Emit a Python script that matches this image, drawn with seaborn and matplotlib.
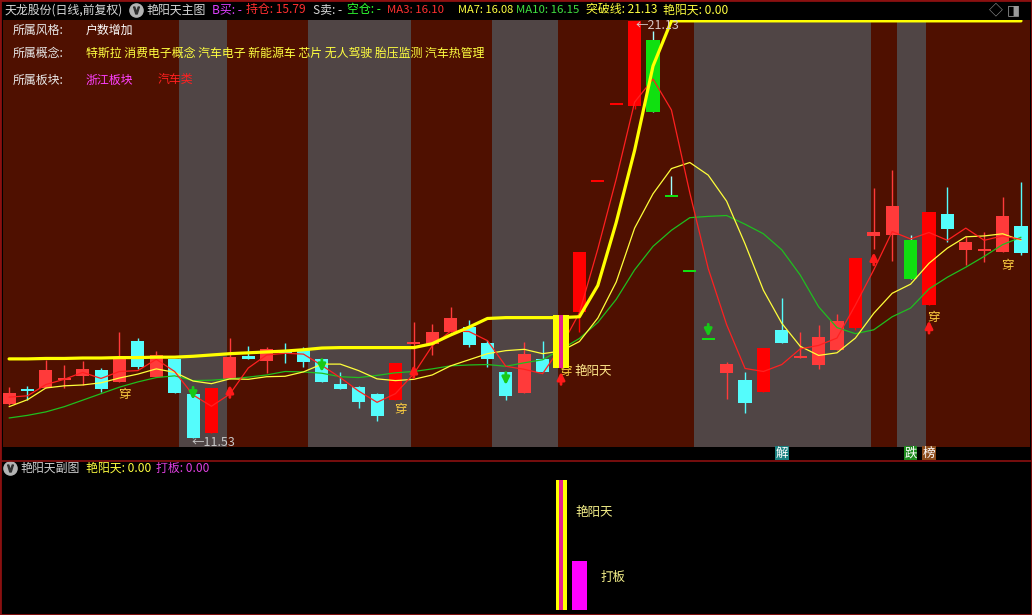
import numpy as np
import pandas as pd
import matplotlib
matplotlib.use("Agg")
import matplotlib.pyplot as plt
from matplotlib.lines import Line2D
from matplotlib.patches import Rectangle
import matplotlib.transforms as mtransforms
import seaborn as sns

# daily candles (56 sessions, left to right)
opens = [12.31, 12.64, 12.68, 12.87, 12.96, 13.10, 12.82, 13.77, 12.94, 13.35,
         12.55, 11.65, 12.89, 13.42, 13.31, 13.52, 13.58, 13.35, 12.78, 12.71,
         12.55, 12.41, 13.70, 13.70, 13.98, 14.09, 13.72, 13.05, 12.57, 13.35,
         13.15, 14.44, 17.44, 19.21, 19.17, 20.69, 17.09, 15.38, 13.81, 13.03,
         12.87, 12.59, 14.02, 13.38, 13.21, 13.56, 14.07, 16.17, 16.19, 16.08,
         14.58, 16.68, 15.85, 15.86, 15.82, 16.42]
highs = [12.71, 12.73, 13.33, 13.21, 13.31, 13.15, 13.98, 13.84, 13.54, 13.35,
         12.55, 12.68, 13.84, 13.65, 13.63, 13.72, 13.63, 13.35, 13.05, 12.73,
         12.57, 13.26, 14.21, 14.16, 14.55, 14.25, 13.79, 13.05, 13.75, 13.77,
         14.37, 15.82, 17.44, 19.21, 21.13, 20.90, 17.55, 15.38, 13.81, 13.28,
         13.05, 13.61, 14.76, 13.98, 14.14, 14.39, 15.68, 17.28, 17.69, 16.19,
         16.72, 17.30, 16.17, 16.26, 17.07, 17.41]
lows = [12.29, 12.41, 12.68, 12.68, 12.75, 12.59, 12.82, 13.12, 12.94, 12.57,
        11.53, 11.65, 12.89, 13.35, 13.03, 13.26, 13.17, 12.82, 12.66, 12.22,
        11.92, 12.41, 13.10, 13.45, 13.98, 13.63, 13.17, 12.41, 12.57, 13.05,
        13.15, 13.98, 17.44, 19.21, 19.10, 19.03, 17.09, 15.38, 13.81, 12.43,
        12.11, 12.59, 13.72, 13.38, 13.12, 13.56, 14.02, 15.87, 15.61, 15.18,
        14.58, 16.03, 15.50, 15.59, 15.82, 15.75]
closes = [12.57, 12.62, 13.10, 12.91, 13.12, 12.66, 13.40, 13.17, 13.45, 12.57,
          11.53, 12.68, 13.40, 13.35, 13.58, 13.51, 13.28, 12.82, 12.66, 12.36,
          12.04, 13.26, 13.72, 13.98, 14.28, 13.68, 13.35, 12.50, 13.47, 13.05,
          14.37, 15.82, 17.44, 19.21, 21.13, 19.03, 17.09, 15.38, 13.81, 13.24,
          12.34, 13.61, 13.72, 13.40, 13.86, 14.23, 15.68, 16.28, 16.88, 15.18,
          16.72, 16.33, 16.03, 15.87, 16.63, 15.78]

# moving averages and the breakout line as drawn on the chart
ma3 = [12.47, 12.50, 12.76, 12.88, 13.04, 12.90, 13.06, 13.08, 13.34, 13.06,
       12.52, 12.26, 12.54, 13.14, 13.44, 13.48, 13.46, 13.20, 12.92, 12.61,
       12.35, 12.55, 13.01, 13.65, 13.99, 13.98, 13.77, 13.18, 13.11, 13.01,
       13.63, 14.41, 15.88, 17.49, 19.26, 19.79, 19.08, 17.17, 15.43, 14.14,
       13.13, 13.06, 13.22, 13.58, 13.66, 13.83, 14.59, 15.40, 16.28, 16.11,
       16.26, 16.08, 16.36, 16.08, 16.18, 16.10]
ma7 = [12.25, 12.41, 12.68, 12.73, 12.75, 12.80, 12.91, 13.00, 13.12, 13.04,
       12.84, 12.78, 12.89, 12.88, 12.94, 12.95, 13.05, 13.23, 13.23, 13.08,
       12.89, 12.85, 12.88, 12.98, 13.19, 13.33, 13.47, 13.54, 13.57, 13.47,
       13.53, 13.75, 14.29, 15.12, 16.36, 17.15, 17.73, 17.87, 17.58, 16.98,
       16.00, 14.93, 14.17, 13.64, 13.43, 13.49, 13.83, 14.40, 14.86, 15.07,
       15.55, 15.90, 16.16, 16.18, 16.23, 16.08]
ma10 = [11.99, 12.05, 12.13, 12.25, 12.40, 12.55, 12.70, 12.82, 12.92, 12.96,
        12.85, 12.86, 12.89, 12.93, 12.98, 13.06, 13.05, 13.02, 12.94, 12.92,
        12.97, 13.03, 13.06, 13.12, 13.19, 13.21, 13.22, 13.18, 13.26, 13.33,
        13.57, 13.82, 14.19, 14.72, 15.40, 15.94, 16.31, 16.60, 16.63, 16.65,
        16.45, 16.23, 15.86, 15.28, 14.55, 14.07, 13.93, 14.02, 14.32, 14.52,
        14.96, 15.23, 15.46, 15.71, 15.98, 16.15]
breakout = [13.35, 13.35, 13.36, 13.36, 13.37, 13.37, 13.38, 13.38, 13.39, 13.39,
            13.41, 13.44, 13.47, 13.49, 13.51, 13.53, 13.56, 13.60, 13.61, 13.61,
            13.61, 13.61, 13.61, 13.70, 13.90, 14.08, 14.28, 14.30, 14.30, 14.30,
            14.30, 14.32, 15.04, 16.49, 18.15, 20.09, 21.13, 21.13, 21.13, 21.13,
            21.13, 21.13, 21.13, 21.13, 21.13, 21.13, 21.13, 21.13, 21.13, 21.13,
            21.13, 21.13, 21.13, 21.13, 21.13, 21.13]

# sessions shaded grey (first, last)
grey_runs = [(10, 11), (17, 21), (27, 29), (38, 46), (49, 49)]

# signal arrows: session index and arrow tip price
buy_idx = [12, 22, 30, 47, 50]
buy_tip = [12.75, 13.21, 13.05, 15.80, 14.23]
sell_idx = [10, 17, 27, 38]
sell_tip = [12.41, 13.05, 12.75, 13.86]

# "穿" marks
chuan_idx = [6, 21, 30, 50, 54]
chuan_y = [12.52, 12.18, 13.05, 14.30, 15.50]

# 艳阳天 signal / 打板 (sub chart)
yyt_idx = [30]
yyt_val = [1.0]
daban_idx = [31]
daban_val = [0.38]

concepts = "特斯拉 消费电子概念 汽车电子 新能源车 芯片 无人驾驶 胎压监测 汽车热管理"

W, H = 1032, 615
BG = "#4f1000"
GREY = "#504545"


def ftext(fig, x, y, s, color, size=8.6, **kw):
    fig.text(x / W, 1 - y / H, s, color=color, fontsize=size,
             ha=kw.pop("ha", "left"), va=kw.pop("va", "center"), **kw)


def icon(fig, x, y):
    fig.add_artist(Line2D([x / W], [1 - y / H], marker="o", ms=9.5, color="#b4b4b4",
                          transform=fig.transFigure))
    fig.add_artist(Line2D([x / W], [1 - y / H], marker=r"$\vee$", ms=5, color="#303030",
                          transform=fig.transFigure))


def main():
    sns.set_theme(style="dark")
    plt.rcParams["font.family"] = ["Noto Sans CJK SC", "DejaVu Sans"]
    plt.rcParams["axes.unicode_minus"] = False

    fig = plt.figure(figsize=(W / 100, H / 100), dpi=100, facecolor="black")
    ax = fig.add_axes([3 / W, 1 - 447 / H, 1027 / W, 427 / H])
    ax2 = fig.add_axes([3 / W, 1 - 612 / H, 1027 / W, 150 / H])

    x = np.arange(len(closes))
    df = pd.DataFrame({"o": opens, "h": highs, "l": lows, "c": closes}, index=x)
    df["pct"] = df["c"] / df["c"].shift(1) - 1

    # ---------- main chart ----------
    ax.set_facecolor(BG)
    for s, e in grey_runs:
        ax.axvspan(s - 0.75, e + 0.85, color=GREY, lw=0, zorder=0)

    body_c, wick_c = [], []
    for i, r in df.iterrows():
        if r.pct < -0.095:
            body_c.append("#10e010"); wick_c.append("#a0ffff")
        elif r.c >= r.o:
            col = "#ff0000" if r.pct > 0.095 else "#ff3a3a"
            body_c.append(col); wick_c.append(col)
        else:
            body_c.append("#54fcfc"); wick_c.append("#54fcfc")
    min_h = 0.045
    span = (df.c - df.o).abs()
    bottom = np.where(span < min_h, (df.c + df.o) / 2 - min_h / 2, df[["o", "c"]].min(axis=1))
    height = np.maximum(span, min_h)
    ax.vlines(x, df.l, df.h, colors=wick_c, lw=1, zorder=2.9)
    ax.bar(x, height, bottom=bottom, width=0.71, color=body_c, lw=0, zorder=3)

    sns.lineplot(x=x, y=ma10, ax=ax, color="#1fbf1f", lw=0.9, zorder=4)
    sns.lineplot(x=x, y=ma7, ax=ax, color="#ffff3a", lw=0.9, zorder=4)
    sns.lineplot(x=x, y=ma3, ax=ax, color="#ff2020", lw=0.9, zorder=4)
    sns.lineplot(x=x, y=breakout, ax=ax, color="#ffff00", lw=2.3, zorder=4.5)

    for i, yv in zip(chuan_idx, chuan_y):
        ax.text(i + 0.27, yv, "穿", color="#ffd040", fontsize=9, ha="center", va="center", zorder=4.8)

    # 艳阳天 signal bar over the candle
    for i in yyt_idx:
        lo, hi = min(opens[i], closes[i]), max(opens[i], closes[i])
        ax.bar(i, hi - lo, bottom=lo, width=0.82, color="#ffff00", lw=0, zorder=5)
        ax.bar(i, hi - lo, bottom=lo, width=0.17, color="#e4208c", lw=0, zorder=5.1)
        ax.text(i + 0.7, 13.05, "艳阳天", color="#ffe88a", fontsize=9, ha="left", va="center", zorder=6)

    for i, t in zip(buy_idx, buy_tip):
        ax.annotate("", xy=(i, t), xytext=(0, -9), textcoords="offset points",
                    arrowprops=dict(arrowstyle="-|>", color="#ff1a1a", lw=2, mutation_scale=11,
                                    shrinkA=0, shrinkB=0), zorder=6)
    for i, t in zip(sell_idx, sell_tip):
        ax.annotate("", xy=(i, t), xytext=(0, 9), textcoords="offset points",
                    arrowprops=dict(arrowstyle="-|>", color="#18c818", lw=2, mutation_scale=11,
                                    shrinkA=0, shrinkB=0), zorder=6)

    lo_i = int(np.argmin(lows))
    hi_i = int(np.argmax(highs))
    ax.annotate(f"←{lows[lo_i]:.2f}", xy=(lo_i, lows[lo_i]), xytext=(-1, -3), textcoords="offset points",
                color="#c8c8c8", fontsize=9, ha="left", va="center", zorder=6)
    ax.annotate(f"←{highs[hi_i]:.2f}", xy=(hi_i, highs[hi_i]), xytext=(1, -3), textcoords="offset points",
                color="#d8c8c8", fontsize=9, ha="left", va="center", zorder=6)

    ax.set_xlim(-0.33, 55.49)
    ax.set_ylim(11.322, 21.15)

    # tags in the black strip under the main chart
    trans = mtransforms.blended_transform_factory(ax.transData, ax.transAxes)
    for i, s, bg in [(42, "解", "#1a8080"), (49, "跌", "#1f8a1f"), (50, "榜", "#8a4a1a")]:
        ax.text(i, -0.014, s, transform=trans, color="white", fontsize=9, ha="center", va="center",
                clip_on=False, bbox=dict(boxstyle="square,pad=0.05", fc=bg, ec="none"))

    # ---------- sub chart ----------
    ax2.set_facecolor("black")
    for i, v in zip(yyt_idx, yyt_val):
        ax2.bar(i, v, width=0.6, color="#ffff00", lw=0)
        ax2.bar(i, v, width=0.17, color="#e4208c", lw=0)
        ax2.text(i + 0.8, v * 0.75, "艳阳天", color="#f5f08a", fontsize=9, ha="left", va="center")
    for i, v in zip(daban_idx, daban_val):
        ax2.bar(i, v, width=0.82, color="#ff00ff", lw=0)
        ax2.text(i + 1.15, v * 0.66, "打板", color="#f5f08a", fontsize=9, ha="left", va="center")
    ax2.set_xlim(-0.33, 55.49)
    ax2.set_ylim(-0.0154, 1.138)

    for a in (ax, ax2):
        a.grid(False)
        a.set_xticks([]); a.set_yticks([])
        a.set_xlabel(""); a.set_ylabel("")
        for sp in a.spines.values():
            sp.set_visible(False)

    # ---------- header texts ----------
    ftext(fig, 5, 10, "天龙股份(日线,前复权)", "#d8d8d8")
    icon(fig, 136, 10)
    ftext(fig, 146, 10, "艳阳天主图", "#d8d8d8")
    ftext(fig, 212, 10, "B买: -", "#e040ff")
    ftext(fig, 246, 10, "持仓: 15.79", "#ff3030")
    ftext(fig, 313, 10, "S卖: -", "#d8d8d8")
    ftext(fig, 347, 10, "空仓: -", "#30ff30")
    ftext(fig, 387, 10, f"MA3: {ma3[-1]:.2f}", "#ff3030", size=8.2)
    ftext(fig, 458, 10, f"MA7: {ma7[-1]:.2f}", "#ffff40", size=8.0)
    ftext(fig, 516, 10, f"MA10: {ma10[-1]:.2f}", "#40e040", size=8.2)
    ftext(fig, 586, 10, f"突破线: {breakout[-1]:.2f}", "#ffff40")
    ftext(fig, 663, 10, "艳阳天: 0.00", "#ffff40")
    ftext(fig, 996, 10, "◇", "#9a9a9a", size=10, ha="center")
    ftext(fig, 1013, 10, "◨", "#9a9a9a", size=10, ha="center")

    ftext(fig, 13, 30, "所属风格:", "#e8e8e8")
    ftext(fig, 86, 30, "户数增加", "#ffffff")
    ftext(fig, 13, 53, "所属概念:", "#e8e8e8")
    ftext(fig, 86, 53, concepts, "#ffff40")
    ftext(fig, 13, 80, "所属板块:", "#e8e8e8")
    ftext(fig, 86, 80, "浙江板块", "#ff40ff")
    ftext(fig, 158, 80, "汽车类", "#ff2020")

    icon(fig, 10, 468)
    ftext(fig, 20, 468, "艳阳天副图", "#d0d0d0")
    ftext(fig, 86, 468, "艳阳天: 0.00", "#ffff40")
    ftext(fig, 156, 468, "打板: 0.00", "#e040e0")

    # frame lines
    fig.add_artist(Line2D([0, 1], [1 - 461 / H] * 2, color="#8b1010", lw=1.2, transform=fig.transFigure))
    fig.add_artist(Rectangle((0, 0), 1, 1, fill=False, ec="#8b1010", lw=2, transform=fig.transFigure))

    fig.savefig("out.png", dpi=100, facecolor=fig.get_facecolor())
    plt.close(fig)


if __name__ == "__main__":
    main()
